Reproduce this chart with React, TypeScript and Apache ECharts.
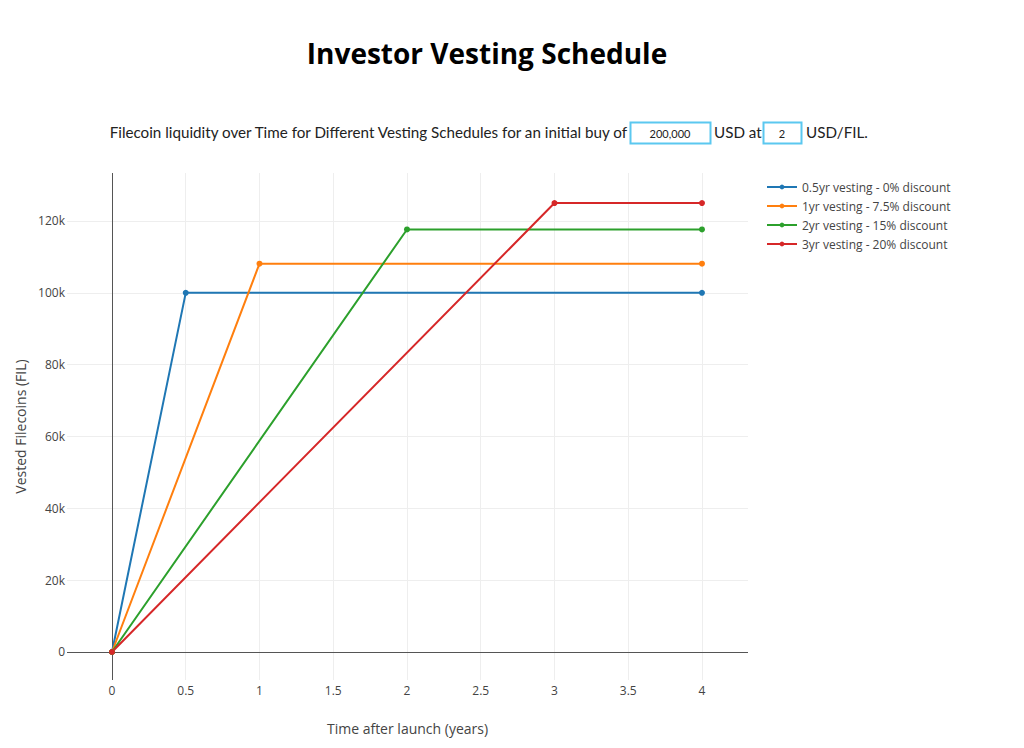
import React, { useEffect, useRef } from "react";
import * as echarts from "echarts";

const seriesNames = [
  "0.5yr vesting - 0% discount",
  "1yr vesting - 7.5% discount",
  "2yr vesting - 15% discount",
  "3yr vesting - 20% discount",
];
const colors = ["#1f77b4", "#ff7f0e", "#2ca02c", "#d62728"];
const years05 = [0, 0.5, 4];
const vals05 = [0, 100000, 100000];
const years1 = [0, 1, 4];
const vals1 = [0, 108108, 108108];
const years2 = [0, 2, 4];
const vals2 = [0, 117647, 117647];
const years3 = [0, 3, 4];
const vals3 = [0, 125000, 125000];
const xTicks = [0, 0.5, 1, 1.5, 2, 2.5, 3, 3.5, 4];
const yTicks = [0, 20000, 40000, 60000, 80000, 100000, 120000];

const FONT = "'Open Sans', sans-serif";
const SUB = "15.2px Lato, sans-serif";

export default function App() {
  const ref = useRef<HTMLDivElement>(null);
  useEffect(() => {
    if (!ref.current) return;
    const chart = echarts.init(ref.current, undefined, { renderer: "svg" });
    const xs = [years05, years1, years2, years3];
    const ys = [vals05, vals1, vals2, vals3];
    const lineSeries = seriesNames.map((name, i) => ({
      name,
      type: "line",
      data: xs[i].map((x, j) => [x, ys[i][j]]),
      color: colors[i],
      lineStyle: { width: 2, color: colors[i] },
      itemStyle: { color: colors[i], borderWidth: 0 },
      symbol: "circle",
      symbolSize: 6,
      showSymbol: true,
      z: 10,
    }));
    const gridSeries = {
      name: "grid",
      type: "line",
      data: [],
      silent: true,
      z: 1,
      markLine: {
        silent: true,
        z: 1,
        symbol: "none",
        label: { show: false },
        animation: false,
        data: [
          ...xTicks.filter((v) => v !== 0).map((v) => ({ xAxis: v, lineStyle: { color: "#eeeeee", width: 1, type: "solid" } })),
          ...yTicks.filter((v) => v !== 0).map((v) => ({ yAxis: v, lineStyle: { color: "#eeeeee", width: 1, type: "solid" } })),
          { xAxis: 0, lineStyle: { color: "#555555", width: 1, type: "solid" } },
          { yAxis: 0, lineStyle: { color: "#555555", width: 1, type: "solid" } },
        ],
      },
    };
    const option: any = {
      animation: false,
      backgroundColor: "#ffffff",
      textStyle: { fontFamily: FONT },
      grid: { left: 67, right: 276, top: 173, bottom: 68, containLabel: false },
      legend: {
        data: seriesNames,
        orient: "vertical",
        left: 761,
        top: 176,
        itemWidth: 30,
        itemHeight: 6,
        itemGap: 7,
        textStyle: { fontFamily: FONT, fontSize: 12, color: "#444" },
      },
      xAxis: {
        type: "value",
        min: -0.305,
        max: 4.312,
        axisLine: { show: false },
        axisTick: { show: false },
        splitLine: { show: false },
        axisLabel: {
          customValues: xTicks,
          formatter: (v: number) => String(v),
          fontFamily: FONT,
          fontSize: 12,
          color: "#444",
          margin: 4,
        },
        name: "Time after launch (years)",
        nameLocation: "middle",
        nameGap: 41,
        nameTextStyle: { fontFamily: FONT, fontSize: 14, color: "#444" },
      },
      yAxis: {
        type: "value",
        min: -7796,
        max: 133364,
        axisLine: { show: false },
        axisTick: { show: false },
        splitLine: { show: false },
        axisLabel: {
          customValues: yTicks,
          formatter: (v: number) => (v === 0 ? "0" : v / 1000 + "k"),
          fontFamily: FONT,
          fontSize: 12,
          color: "#444",
          margin: 2,
        },
        name: "Vested Filecoins (FIL)",
        nameLocation: "middle",
        nameGap: 40,
        nameRotate: 90,
        nameTextStyle: { fontFamily: FONT, fontSize: 14, color: "#444" },
      },
      graphic: [
        {
          type: "text",
          x: 487,
          y: 53,
          style: {
            text: "Investor Vesting Schedule",
            font: "bold 28px 'Open Sans', sans-serif",
            fill: "#000",
            align: "center",
            verticalAlign: "middle",
          },
        },
        {
          type: "text",
          x: 627,
          y: 132,
          style: {
            text: "Filecoin liquidity over Time for Different Vesting Schedules for an initial buy of",
            font: SUB,
            fill: "#222",
            align: "right",
            verticalAlign: "middle",
          },
        },
        {
          type: "rect",
          shape: { x: 630.5, y: 122.5, width: 80, height: 21 },
          style: { fill: "#fff", stroke: "#5bc8f0", lineWidth: 2 },
        },
        {
          type: "text",
          x: 670,
          y: 133,
          style: { text: "200,000", font: "11px Lato, sans-serif", fill: "#222", align: "center", verticalAlign: "middle" },
        },
        {
          type: "text",
          x: 714,
          y: 132,
          style: { text: "USD at", font: SUB, fill: "#222", align: "left", verticalAlign: "middle" },
        },
        {
          type: "rect",
          shape: { x: 763.5, y: 122.5, width: 38, height: 21 },
          style: { fill: "#fff", stroke: "#5bc8f0", lineWidth: 2 },
        },
        {
          type: "text",
          x: 782,
          y: 133,
          style: { text: "2", font: "11px Lato, sans-serif", fill: "#222", align: "center", verticalAlign: "middle" },
        },
        {
          type: "text",
          x: 806,
          y: 132,
          style: { text: "USD/FIL.", font: SUB, fill: "#222", align: "left", verticalAlign: "middle" },
        },
      ],
      series: [gridSeries, ...lineSeries],
    };
    chart.setOption(option);
    return () => chart.dispose();
  }, []);
  return (
    <div
      ref={ref}
      style={{ position: "absolute", left: 0, top: 0, width: 1024, height: 748, background: "#fff" }}
    />
  );
}
